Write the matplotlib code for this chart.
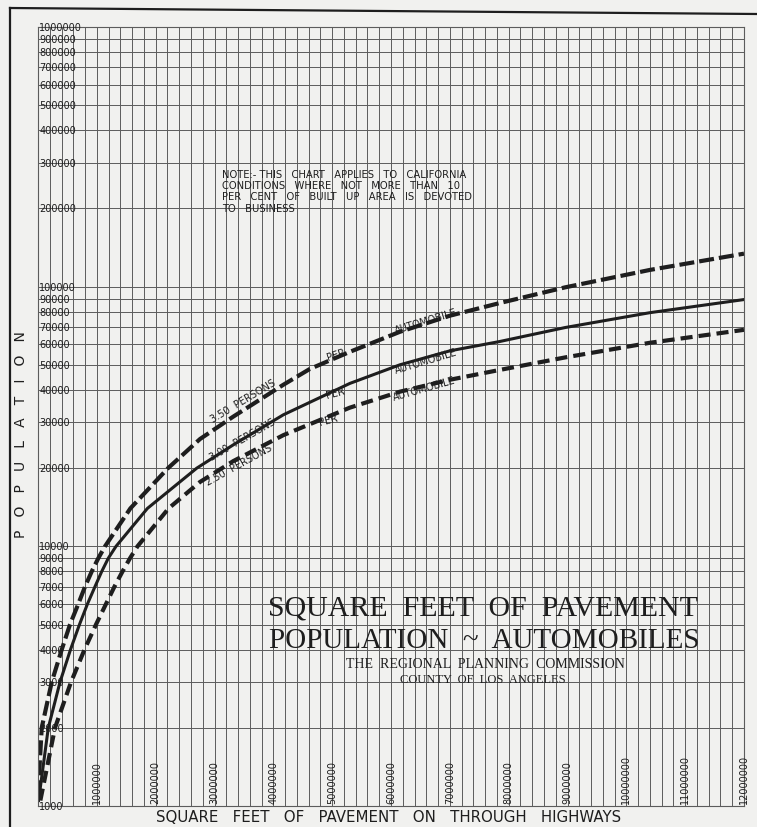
import numpy as np
import matplotlib
matplotlib.use("Agg")
import matplotlib.pyplot as plt
from matplotlib.ticker import LogLocator, NullFormatter
from matplotlib.lines import Line2D
import matplotlib.transforms as mtransforms

# ---------------- data ----------------
sqft_350 = [0, 63000, 233000, 403000, 544000, 685000, 800000, 913000, 1025000, 1139000,
            1570000, 2210000, 2754000, 3320000, 4170000, 4620000, 5300000, 6150000,
            7000000, 7850000, 8960000, 10400000, 12000000]
pop_350 = [1100, 2000, 3000, 4000, 5000, 6000, 7000, 8000, 9000, 10000,
           14000, 20000, 25900, 31600, 41900, 48200, 56100, 67000,
           77300, 86500, 99400, 116000, 134000]

sqft_300 = [10000, 175000, 374000, 552000, 705000, 841000, 969000, 1083000, 1195000,
            1326000, 1860000, 2698000, 3320000, 4170000, 5300000, 6150000, 7000000,
            7850000, 8960000, 10400000, 12000000]
pop_300 = [1050, 2000, 3000, 4000, 5000, 6000, 7000, 8000, 9000,
           10000, 14000, 20000, 24600, 32100, 42400, 50000, 56600,
           61500, 69600, 79400, 89200]

sqft_250 = [40000, 289000, 561000, 790000, 986000, 1156000, 1300000, 1436000, 1564000,
            1691000, 2220000, 2754000, 3320000, 4170000, 5300000, 6150000, 7000000,
            7850000, 8960000, 10400000, 12000000]
pop_250 = [1050, 2000, 3000, 4000, 5000, 6000, 7000, 8000, 9000,
           10000, 14000, 17700, 21300, 26800, 34200, 39400, 43800,
           47800, 53400, 60800, 68200]

y_tick_values = [1000, 2000, 3000, 4000, 5000, 6000, 7000, 8000, 9000,
                 10000, 20000, 30000, 40000, 50000, 60000, 70000, 80000, 90000,
                 100000, 200000, 300000, 400000, 500000, 600000, 700000, 800000, 900000,
                 1000000]
y_tick_labels = [str(v) for v in y_tick_values]
x_tick_values = [1000000 * k for k in range(1, 13)]
x_tick_labels = [str(v) for v in x_tick_values]

# ---------------- figure ----------------
W, H = 757, 828
bg = "#f1f1ef"
ink = "#1e1e1e"
gridc = "#5c5c5c"

fig = plt.figure(figsize=(W / 100, H / 100), dpi=100, facecolor=bg)
ax = fig.add_axes([38 / W, (H - 807) / H, (744 - 38) / W, (807 - 28) / H])
ax.set_facecolor(bg)
ax.set_yscale("log")
ax.set_xlim(0, 12000000)
ax.set_ylim(1000, 1000000)

ax.set_xticks(np.arange(0, 12000001, 200000))
ax.yaxis.set_major_locator(LogLocator(base=10, subs=range(1, 10)))
ax.yaxis.set_minor_locator(LogLocator(base=10, subs=[]))
ax.yaxis.set_major_formatter(NullFormatter())
ax.yaxis.set_minor_formatter(NullFormatter())
ax.xaxis.set_major_formatter(NullFormatter())
ax.tick_params(which="both", length=0)
ax.grid(True, which="major", color=gridc, linewidth=0.7)
for s in ax.spines.values():
    s.set_color(gridc)
    s.set_linewidth(0.8)

# curves
l1, = ax.plot(sqft_350, pop_350, color=ink, linewidth=3.0, dash_capstyle="butt",
              dash_joinstyle="round")
l1.set_dashes([3.6, 1.2])
l2, = ax.plot(sqft_300, pop_300, color=ink, linewidth=2.2, solid_joinstyle="round")
l3, = ax.plot(sqft_250, pop_250, color=ink, linewidth=3.0, dash_capstyle="butt",
              dash_joinstyle="round")
l3.set_dashes([2.9, 1.45])

# tick labels drawn inside the grid
ytrans = mtransforms.blended_transform_factory(ax.transAxes, ax.transData)
for v, lab in zip(y_tick_values, y_tick_labels):
    ax.text(0.002, v, lab, transform=ytrans, ha="left", va="center",
            fontsize=7, color=ink, clip_on=False)
xtrans = mtransforms.blended_transform_factory(ax.transData, ax.transAxes)
for v, lab in zip(x_tick_values, x_tick_labels):
    ax.text(v, 0.004, lab, transform=xtrans, ha="center", va="bottom",
            rotation=90, fontsize=7, color=ink, clip_on=False)


def ftext(px, py, s, **kw):
    fig.text(px / W, 1 - py / H, s, **kw)


# curve labels
lab_kw = dict(fontsize=7, color=ink, ha="center", va="center", rotation_mode="anchor")
ftext(243, 401, "3.50  PERSONS", rotation=31, **lab_kw)
ftext(336, 355, "PER", rotation=18, **lab_kw)
ftext(426, 322, "AUTOMOBILE", rotation=17, **lab_kw)
ftext(242, 440, "3.00  PERSONS", rotation=30, **lab_kw)
ftext(335, 394, "PER", rotation=15, **lab_kw)
ftext(426, 362, "AUTOMOBILE", rotation=17, **lab_kw)
ftext(239, 465, "2.50  PERSONS", rotation=29, **lab_kw)
ftext(328, 421, "PER", rotation=15, **lab_kw)
ftext(424, 389, "AUTOMOBILE", rotation=16, **lab_kw)

# note
note = ("NOTE:- THIS   CHART   APPLIES   TO   CALIFORNIA\n"
        "CONDITIONS   WHERE   NOT   MORE   THAN   10\n"
        "PER   CENT   OF   BUILT   UP   AREA   IS   DEVOTED\n"
        "TO   BUSINESS")
ftext(222, 170, note, fontsize=7.2, color=ink, ha="left", va="top", linespacing=1.15)

# title block
ftext(483, 609, "SQUARE  FEET  OF  PAVEMENT", fontsize=21.5, family="Liberation Serif",
      color=ink, ha="center", va="center")
ftext(484, 641, "POPULATION  ~  AUTOMOBILES", fontsize=21, family="Liberation Serif",
      color=ink, ha="center", va="center")
ftext(485, 665, "THE  REGIONAL  PLANNING  COMMISSION", fontsize=10,
      family="Liberation Serif", color=ink, ha="center", va="center")
ftext(483, 680, "COUNTY  OF  LOS  ANGELES", fontsize=9, family="Liberation Serif",
      color=ink, ha="center", va="center")

# axis titles
ftext(389, 818, "SQUARE   FEET   OF   PAVEMENT   ON   THROUGH   HIGHWAYS", fontsize=10.8,
      color=ink, ha="center", va="center")
ftext(21, 435, "P   O   P   U   L   A   T   I   O   N", fontsize=10, color=ink,
      ha="center", va="center", rotation=90)

# sheet border lines
fig.add_artist(Line2D([10 / W, 10 / W], [1 - 9 / H, 0], color=ink, linewidth=1.6))
fig.add_artist(Line2D([10 / W, 1], [1 - 9 / H, 1 - 15 / H], color=ink, linewidth=1.6))

fig.savefig("out.png", dpi=100, facecolor=bg)
